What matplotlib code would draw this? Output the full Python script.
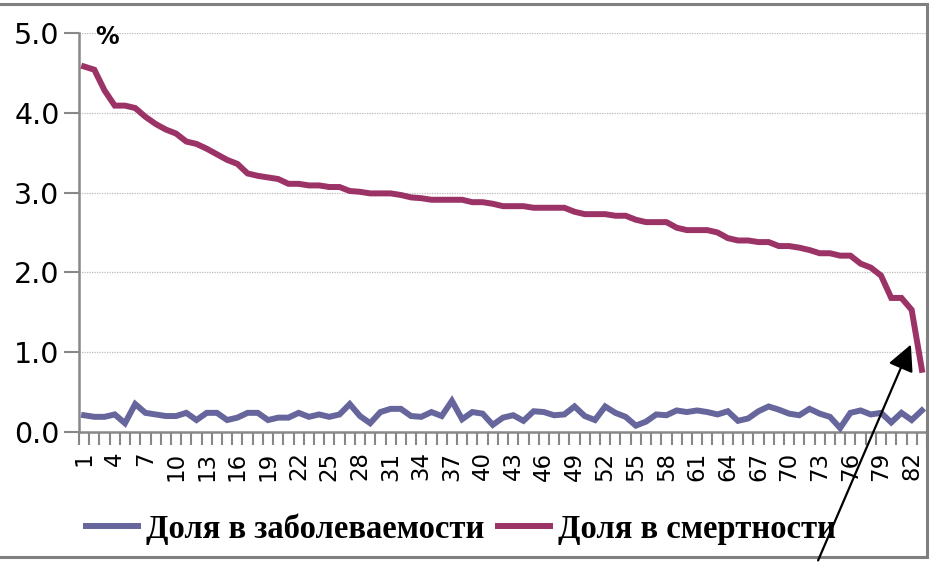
import matplotlib
matplotlib.use("Agg")
import matplotlib.pyplot as plt
from matplotlib.patches import Rectangle, FancyArrowPatch
from matplotlib.ticker import FixedLocator, NullFormatter

categories = list(range(1, 84))
incidence = [0.21, 0.19, 0.19, 0.22, 0.11, 0.35, 0.24, 0.22, 0.20, 0.20,
             0.24, 0.15, 0.24, 0.24, 0.15, 0.18, 0.24, 0.24, 0.15, 0.18,
             0.18, 0.24, 0.19, 0.22, 0.19, 0.22, 0.35, 0.20, 0.11, 0.25,
             0.29, 0.29, 0.20, 0.19, 0.25, 0.20, 0.39, 0.16, 0.25, 0.23,
             0.09, 0.18, 0.21, 0.14, 0.26, 0.25, 0.21, 0.22, 0.32, 0.20,
             0.15, 0.32, 0.24, 0.19, 0.08, 0.13, 0.22, 0.21, 0.27, 0.25,
             0.27, 0.25, 0.22, 0.26, 0.14, 0.17, 0.26, 0.32, 0.28, 0.23,
             0.21, 0.29, 0.23, 0.19, 0.05, 0.24, 0.27, 0.22, 0.24, 0.12,
             0.24, 0.15, 0.27]
mortality = [4.58, 4.54, 4.28, 4.09, 4.09, 4.06, 3.95, 3.86, 3.79, 3.74,
             3.64, 3.61, 3.55, 3.48, 3.41, 3.36, 3.24, 3.21, 3.19, 3.17,
             3.11, 3.11, 3.09, 3.09, 3.07, 3.07, 3.02, 3.01, 2.99, 2.99,
             2.99, 2.97, 2.94, 2.93, 2.91, 2.91, 2.91, 2.91, 2.88, 2.88,
             2.86, 2.83, 2.83, 2.83, 2.81, 2.81, 2.81, 2.81, 2.76, 2.73,
             2.73, 2.73, 2.71, 2.71, 2.66, 2.63, 2.63, 2.63, 2.56, 2.53,
             2.53, 2.53, 2.50, 2.43, 2.40, 2.40, 2.38, 2.38, 2.33, 2.33,
             2.31, 2.28, 2.24, 2.24, 2.21, 2.21, 2.11, 2.06, 1.96, 1.68,
             1.68, 1.53, 0.78]
label_inc = "Доля в заболеваемости"
label_mort = "Доля в смертности"
y_ticks = [0.0, 1.0, 2.0, 3.0, 4.0, 5.0]
x_label_ticks = list(range(1, 84, 3))

W, H = 933, 563
fig = plt.figure(figsize=(W / 100, H / 100), dpi=100)
ax = fig.add_axes([79 / W, (H - 432) / H, (927 - 79) / W, (432 - 33) / H])

blue = "#66669c"
purple = "#9c3366"
ax.plot(categories, incidence, color=blue, lw=4.3, label=label_inc,
        solid_joinstyle="miter", clip_on=False, zorder=3)
ax.plot(categories, mortality, color=purple, lw=4.3, label=label_mort,
        solid_joinstyle="miter", clip_on=False, zorder=3)

ax.set_xlim(0.5, 83.5)
ax.set_ylim(0, 5)

ax.set_yticks(y_ticks)
ax.set_yticklabels([f"{v:.1f}" for v in y_ticks], fontsize=20.5,
                   family="DejaVu Sans")
ax.tick_params(axis="y", length=11, width=1.5, color="#888888", pad=3)
ax.yaxis.grid(True, color="#bbbbbb", linestyle=(0, (1, 1)), lw=0.9)
ax.set_axisbelow(True)

ax.set_xticks(x_label_ticks)
ax.set_xticklabels([str(v) for v in x_label_ticks], rotation=90,
                   fontsize=16.5, family="DejaVu Sans")
ax.xaxis.set_minor_locator(FixedLocator([i + 0.5 for i in range(0, 84)]))
ax.xaxis.set_minor_formatter(NullFormatter())
ax.tick_params(axis="x", which="major", length=0, pad=14)
ax.tick_params(axis="x", which="minor", length=9, width=1.5,
               color="#888888")

for s in ["top", "right"]:
    ax.spines[s].set_visible(False)
for s in ["left", "bottom"]:
    ax.spines[s].set_color("#888888")
    ax.spines[s].set_linewidth(1.8)

fig.text(95 / W, (H - 37) / H, "%", fontsize=17, fontweight="bold",
         family="DejaVu Sans", va="center", ha="left")

leg = fig.legend(loc="center", bbox_to_anchor=(461 / W, (H - 529) / H),
                 ncol=2, frameon=False, handlelength=1.6,
                 handletextpad=0.25, columnspacing=0.4,
                 prop={"family": "Liberation Serif", "weight": "bold",
                       "size": 23.5})

# chart frame
fig.add_artist(Rectangle((-6, 6), 933, 553, transform=None, fill=False,
                         edgecolor="#808080", lw=2.2))

# arrow
arrow = FancyArrowPatch((817, 0), (912, H - 342), transform=None,
                        arrowstyle="-|>,head_length=10,head_width=5",
                        color="black", lw=1.6, mutation_scale=1.6)
fig.add_artist(arrow)

fig.savefig("out.png", dpi=100)
